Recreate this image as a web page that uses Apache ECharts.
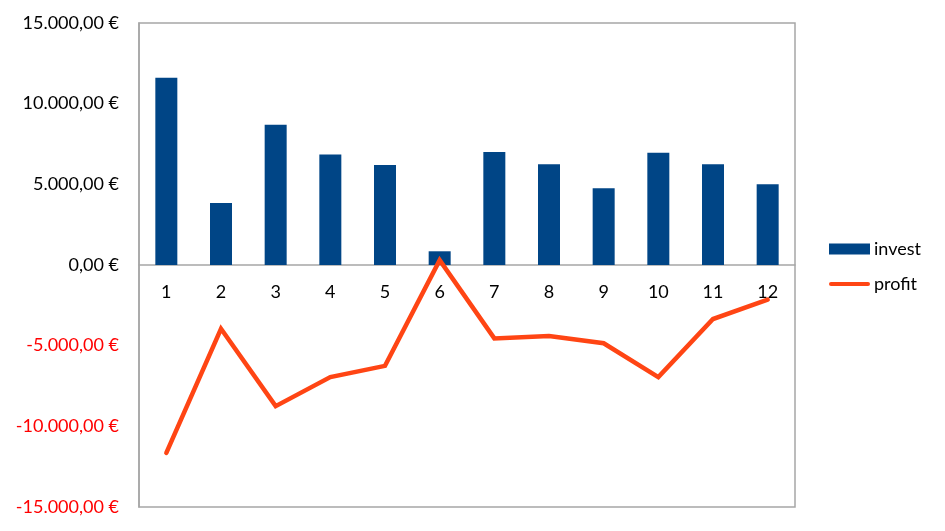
<!DOCTYPE html>
<html><head><meta charset="utf-8">
<script src="https://cdn.jsdelivr.net/npm/echarts@6/dist/echarts.min.js"></script>
<style>html,body{margin:0;padding:0;background:#fff}#c{width:945px;height:531px}</style>
</head><body><div id="c"></div>
<script>
const categories = ['1','2','3','4','5','6','7','8','9','10','11','12'];
const invest = [11600, 3850, 8700, 6850, 6200, 850, 7000, 6250, 4750, 6950, 6250, 5000];
const profit = [-11650, -3950, -8750, -6950, -6250, 300, -4550, -4400, -4850, -6950, -3350, -2150];
const yTicks = [-15000, -10000, -5000, 0, 5000, 10000, 15000];

function fmt(v) {
  const neg = v < 0;
  const a = Math.abs(v);
  const intPart = Math.floor(a).toString().replace(/\B(?=(\d{3})+(?!\d))/g, '.');
  return (neg ? '-' : '') + intPart + ',00 €';
}
const FONT = 'Lato';
const GRID_TOP = 23, GRID_BOTTOM = 24, H = 531;
const plotH = H - GRID_TOP - GRID_BOTTOM;
// distance from plot bottom up to the zero line (zero is the middle of a symmetric axis)
const zeroOffset = -plotH * (0 - yTicks[0]) / (yTicks[yTicks.length-1] - yTicks[0]);

const chart = echarts.init(document.getElementById('c'));
chart.setOption({
  animation: false,
  textStyle: { fontFamily: FONT },
  grid: { left: 139, top: GRID_TOP, right: 150, bottom: GRID_BOTTOM, show: true, borderColor: '#A6A6A6', borderWidth: 1.5, containLabel: false, outerBoundsMode: 'none' },
  legend: {
    orient: 'vertical', left: 829, top: 240, padding: 0, itemWidth: 41, itemHeight: 11, itemGap: 17,
    textStyle: { fontFamily: FONT, fontSize: 18, color: '#000', padding: [0,0,0,-1] },
    data: [
      { name: 'invest', icon: 'rect' },
      { name: 'profit', icon: 'path://M2,0 L39,0 A2,2 0 0 1 39,4 L2,4 A2,2 0 0 1 2,0 Z', itemStyle: { color: '#FF4514' } }
    ]
  },
  xAxis: [{
    type: 'category', data: categories, boundaryGap: true,
    axisLine: { onZero: true, lineStyle: { color: '#A6A6A6', width: 1.5 } },
    axisTick: { show: false },
    axisLabel: { show: false },
    splitLine: { show: false }
  }, {
    type: 'category', data: categories, boundaryGap: true, position: 'bottom', offset: zeroOffset,
    axisLine: { show: false, onZero: false },
    axisTick: { show: false },
    axisLabel: { fontFamily: FONT, fontSize: 18, color: '#000', margin: 18 },
    splitLine: { show: false }
  }],
  yAxis: {
    type: 'value', min: yTicks[0], max: yTicks[yTicks.length-1], interval: 5000,
    axisLine: { show: true, lineStyle: { color: '#A6A6A6', width: 1.5 } },
    axisTick: { show: false },
    splitLine: { show: false },
    axisLabel: {
      fontFamily: FONT, fontSize: 18, margin: 20,
      formatter: v => fmt(v),
      color: v => (Number(v) < 0 ? '#FF0000' : '#000')
    }
  },
  series: [
    { name: 'invest', type: 'bar', data: invest, barWidth: 22, itemStyle: { color: '#004586' }, z: 2 },
    { name: 'profit', type: 'line', data: profit, symbol: 'none', z: 3,
      lineStyle: { color: '#FF4514', width: 4.5, cap: 'round', join: 'miter' }, itemStyle: { color: '#FF4514' } }
  ]
});
</script></body></html>
